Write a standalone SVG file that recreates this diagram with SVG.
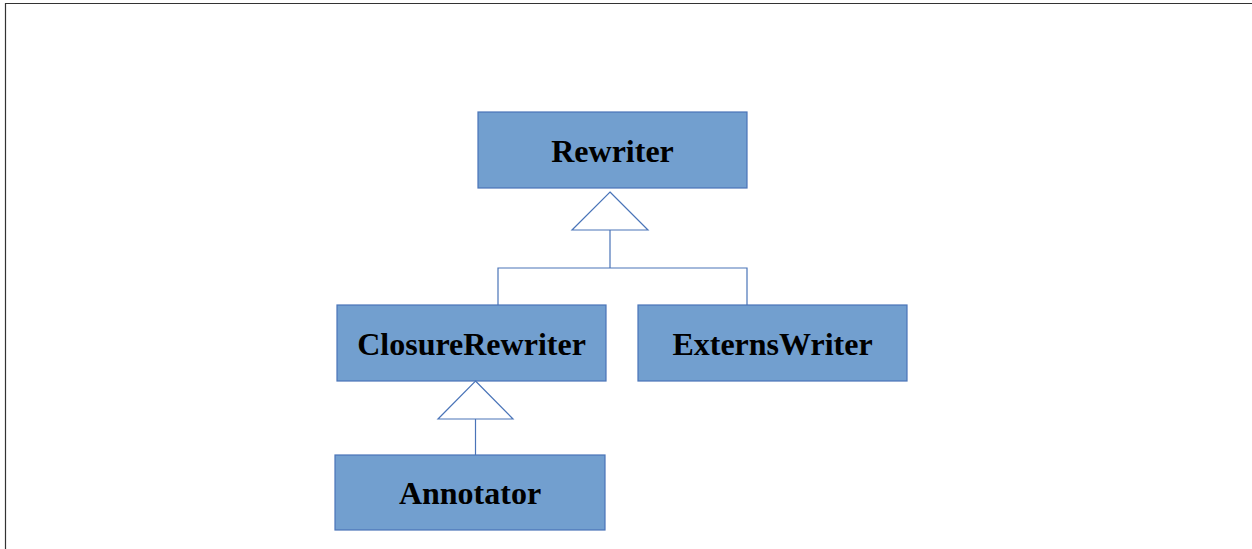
<svg xmlns="http://www.w3.org/2000/svg" width="1252" height="549" viewBox="0 0 1252 549">
<style>
.box{fill:#729fcf;stroke:#4a74b8;stroke-width:1.2}
.lbl{font-family:"Liberation Serif","Times New Roman",serif;font-weight:bold;font-size:32px;fill:#000;text-anchor:middle}
.conn{fill:none;stroke:#4a74b8;stroke-width:1.2}
.tri{fill:#fff;stroke:#4a74b8;stroke-width:1.2}
</style>
<rect width="1252" height="549" fill="#fff"/>
<path d="M5.5 549 V3.5 H1252" fill="none" stroke="#333" stroke-width="1.2"/>
<g id="Rewriter"><rect class="box" x="478" y="112" width="269" height="76"/><text class="lbl" x="612.5" y="162">Rewriter</text></g>
<g id="ClosureRewriter"><rect class="box" x="337" y="305" width="269" height="76"/><text class="lbl" x="471.5" y="355">ClosureRewriter</text></g>
<g id="ExternsWriter"><rect class="box" x="638" y="305" width="269" height="76"/><text class="lbl" x="772.5" y="355">ExternsWriter</text></g>
<g id="Annotator"><rect class="box" x="335" y="455" width="270" height="75"/><text class="lbl" x="470" y="504">Annotator</text></g>
<g id="connectors">
<path class="conn" d="M610 230 V268 M498 305 V268 H747 V305"/>
<polygon class="tri" points="610,192 648,230 572,230"/>
<path class="conn" d="M475.5 419 V455"/>
<polygon class="tri" points="475.5,381 513,419 438,419"/>
</g>
</svg>
